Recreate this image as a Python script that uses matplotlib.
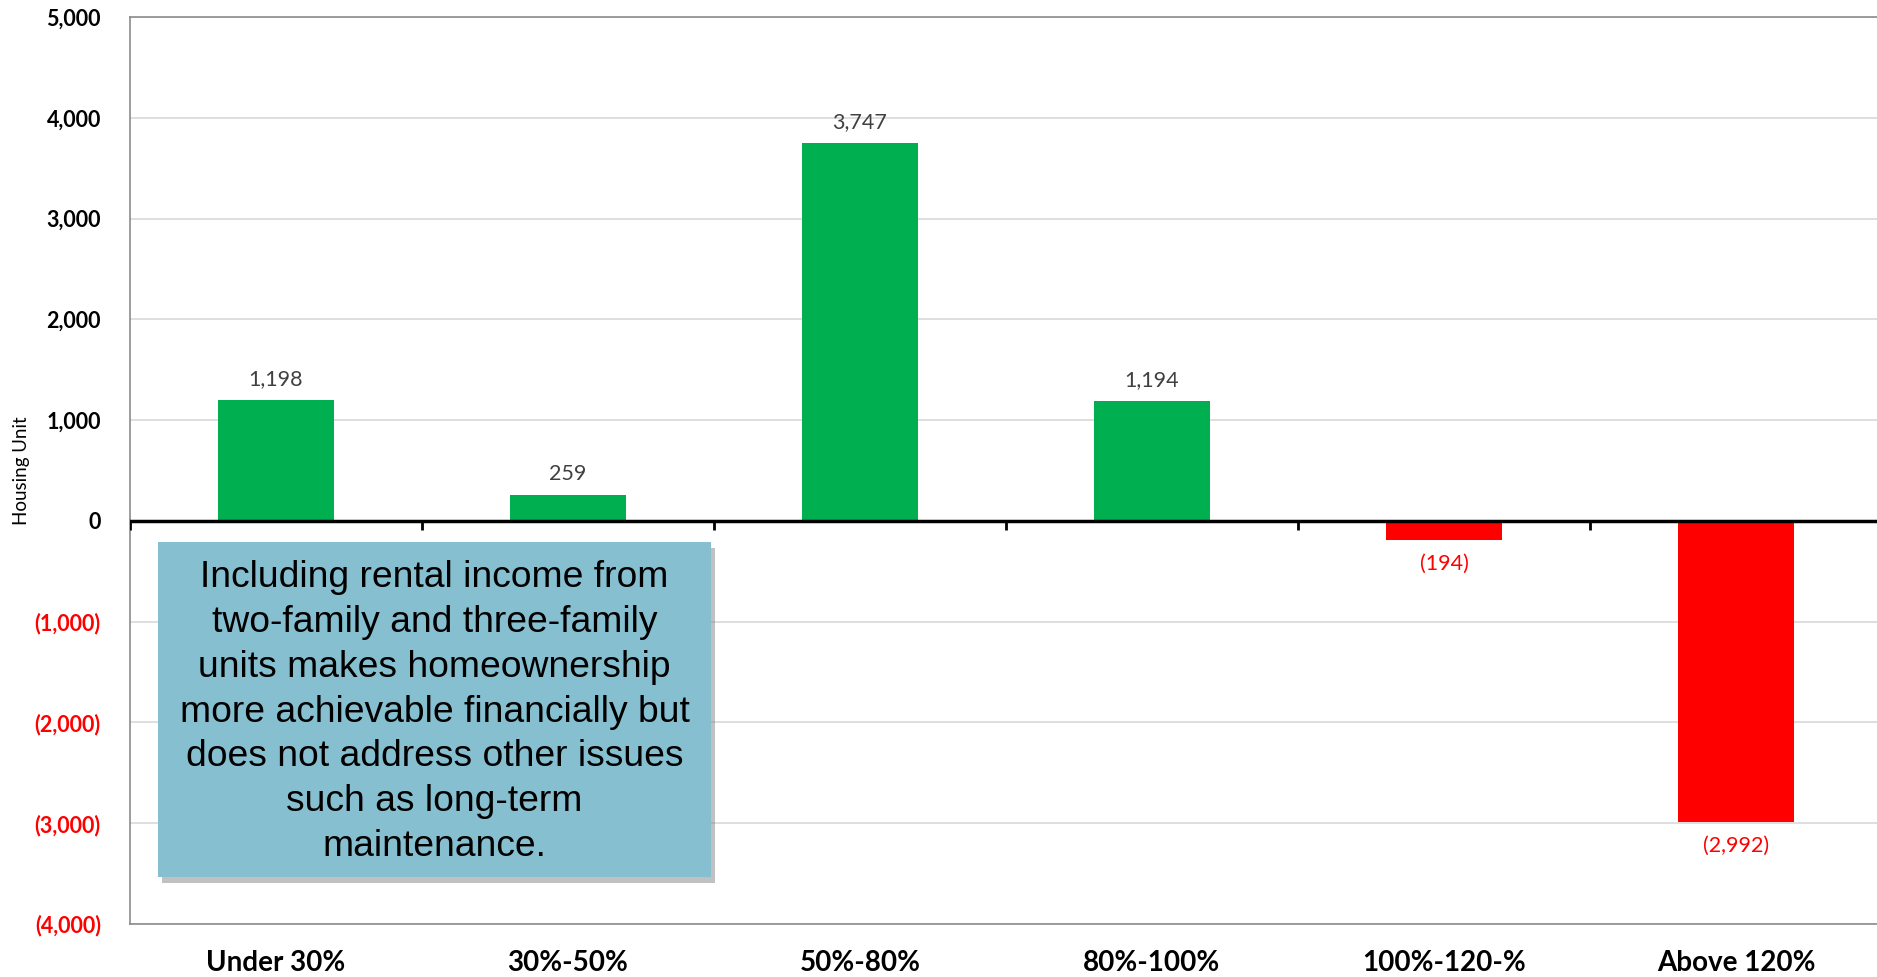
import numpy as np
import matplotlib
matplotlib.use("Agg")
import matplotlib.pyplot as plt
from matplotlib.patches import Rectangle
import matplotlib.patheffects as pe

# data
categories = ["Under 30%", "30%-50%", "50%-80%", "80%-100%", "100%-120-%", "Above 120%"]
units = [1198, 259, 3747, 1194, -194, -2992]
y_ticks = [-4000, -3000, -2000, -1000, 0, 1000, 2000, 3000, 4000, 5000]
note = ("Including rental income from\ntwo-family and three-family\nunits makes homeownership\n"
        "more achievable financially but\ndoes not address other issues\nsuch as long-term\nmaintenance.")

green = "#00B050"
red = "#FF0000"

def fmt(v):
    return "{:,}".format(v) if v >= 0 else "({:,})".format(-v)

fig = plt.figure(figsize=(18.77, 9.77), dpi=100)
ax = fig.add_axes([130/1877, 53/977, 1752/1877, 907/977])

x = np.arange(len(categories))
colors = [green if v >= 0 else red for v in units]
ax.bar(x, units, width=0.4, color=colors, zorder=3)

# value labels
for xi, v in zip(x, units):
    if v >= 0:
        ax.annotate(fmt(v), (xi, v), xytext=(0, 15), textcoords="offset points",
                    ha="center", va="center", fontsize=15.5, color="#404040", family="Lato")
    else:
        ax.annotate(fmt(v), (xi, v), xytext=(0, -17), textcoords="offset points",
                    ha="center", va="center", fontsize=15.5, color=red, family="Lato")

ax.set_xlim(-0.5, len(categories) - 0.5)
ax.set_ylim(-4000, 5000)
ax.set_yticks(y_ticks)
ax.set_yticklabels([fmt(t) for t in y_ticks])
for lab, t in zip(ax.get_yticklabels(), y_ticks):
    lab.set_color(red if t < 0 else "black")
    lab.set_fontweight("bold")
    lab.set_fontsize(15.5)
    lab.set_family("Lato")
ax.tick_params(axis="y", length=0, pad=21)

ax.set_xticks(x)
ax.set_xticklabels(categories, fontsize=20, fontweight="bold", family="Lato")
ax.tick_params(axis="x", length=0, pad=19)

ax.grid(axis="y", color="#D9D9D9", lw=1.2, zorder=0)
ax.set_axisbelow(True)
for s in ["left", "top", "bottom"]:
    ax.spines[s].set_color("#8C8C8C")
    ax.spines[s].set_linewidth(1.2)
ax.spines["right"].set_visible(False)

# zero axis line with category boundary ticks
ax.axhline(0, color="black", lw=2.5, zorder=4)
bounds = np.arange(len(categories) + 1) - 0.5
ax.vlines(bounds, -90, 0, color="black", lw=2, zorder=4)

ax.set_ylabel("Housing Unit", fontsize=13.5, family="Lato")
ax.yaxis.set_label_coords(-100/1752, 0.5)

# note box
box = Rectangle((158/1877, 100/977), 553/1877, 335/977, transform=fig.transFigure,
                facecolor="#85BFD0", edgecolor="none", zorder=10,
                path_effects=[pe.SimplePatchShadow(offset=(3, -4), shadow_rgbFace="#777777", alpha=0.45),
                              pe.Normal()])
fig.patches.append(box)
fig.text(434.5/1877, 1 - 712/977, note, ha="center", va="center", fontsize=26.8,
         family="Liberation Sans", linespacing=1.36, zorder=11)

fig.savefig("out.png", dpi=100)
